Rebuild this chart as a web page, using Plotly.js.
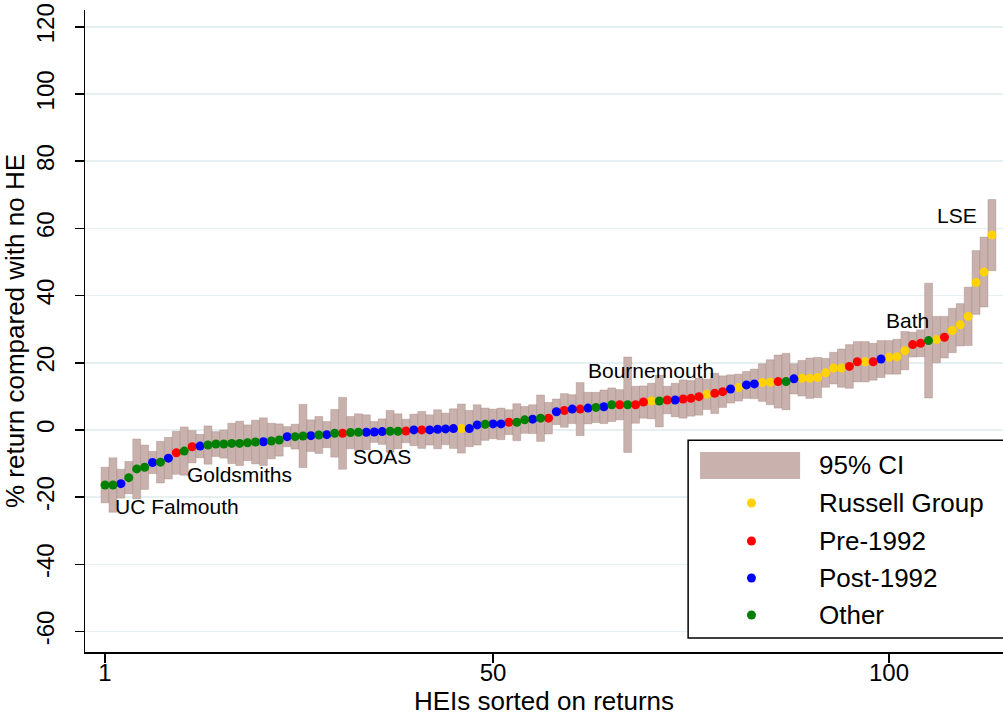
<!DOCTYPE html>
<html>
<head>
<meta charset="utf-8">
<script src="https://cdn.plot.ly/plotly-3.0.1.min.js"></script>
<style>
  html, body { margin: 0; padding: 0; background: #fff; overflow: hidden; }
  #chart { width: 1003px; height: 719px; }
</style>
</head>
<body>
<div id="chart"></div>
<script>
// Estimated % return compared with no HE, HEIs sorted on returns
const returns = [
  -16.4,-16.4,-16.0,-14.2,-11.6,-11.1,-9.7,-9.6,-8.4,-6.8,
  -6.3,-5.0,-4.8,-4.5,-4.2,-4.2,-4.0,-4.0,-3.8,-3.6,
  -3.5,-3.3,-3.0,-2.0,-2.0,-1.8,-1.7,-1.5,-1.4,-1.0,
  -1.0,-0.8,-0.7,-0.7,-0.6,-0.5,-0.4,-0.4,-0.3,0.0,
  0.0,0.0,0.2,0.3,0.4,0.4,0.4,1.5,1.7,1.8,
  1.8,2.3,2.3,3.0,3.2,3.5,3.5,5.4,5.8,6.2,
  6.2,6.5,6.7,6.9,7.5,7.5,7.5,7.5,8.3,8.6,
  8.6,8.9,8.9,9.2,9.4,9.9,10.6,10.9,11.4,12.2,
  12.6,13.4,13.7,14.1,14.2,14.4,14.4,15.2,15.4,15.4,
  15.6,17.0,18.4,18.4,18.9,20.3,20.3,20.3,21.1,21.6,
  21.8,23.6,25.4,25.8,26.6,26.9,27.6,29.6,31.3,33.8,
  43.9,47.0,58.0
];
// 95% confidence interval bounds
const ciLow = [
  -21.7,-24.5,-20.3,-19.0,-20.5,-17.7,-13.0,-15.8,-14.6,-13.2,
  -13.5,-9.8,-8.3,-10.2,-7.9,-8.4,-10.0,-10.6,-9.1,-10.1,
  -10.6,-8.6,-7.8,-5.0,-5.7,-11.2,-6.4,-7.0,-5.3,-8.1,
  -11.7,-5.6,-6.2,-5.9,-3.7,-4.3,-6.6,-5.6,-3.8,-4.7,
  -5.5,-4.5,-5.6,-4.4,-5.5,-6.9,-5.0,-4.5,-3.1,-2.6,
  -2.9,-1.4,-3.2,-1.0,-1.1,-3.4,-1.2,1.6,0.8,1.9,
  -1.7,1.8,2.2,1.9,2.5,3.0,-6.7,2.0,3.5,3.3,
  0.9,4.8,3.9,3.5,4.1,4.4,6.1,4.9,6.7,8.0,
  8.6,9.4,9.3,8.5,7.5,6.5,6.0,10.7,10.1,9.4,
  9.6,12.7,13.7,12.7,12.4,14.3,14.3,14.8,15.6,16.6,
  16.6,17.9,21.7,21.8,9.5,20.0,21.4,23.0,25.0,25.1,
  34.4,36.6,47.4
];
const ciHigh = [
  -11.1,-8.3,-11.7,-9.4,-2.7,-4.5,-6.4,-3.4,-2.2,-0.4,
  0.9,-0.2,-1.3,1.2,-0.5,0.0,2.0,2.6,1.5,2.9,
  3.6,2.0,1.8,1.0,1.7,7.6,3.0,4.0,2.5,6.1,
  9.7,4.0,4.8,4.5,2.5,3.3,5.8,4.8,3.2,4.7,
  5.5,4.5,6.0,5.0,6.3,7.7,5.8,7.5,6.5,6.2,
  6.5,6.0,7.8,7.0,7.5,10.4,8.2,9.2,10.8,10.5,
  14.1,11.2,11.2,11.9,12.5,12.0,21.7,13.0,13.1,13.9,
  16.3,13.0,13.9,14.9,14.7,15.4,15.1,16.9,16.1,16.4,
  16.6,17.4,18.1,19.7,20.9,22.3,22.8,19.7,20.7,21.4,
  21.6,21.3,23.1,24.1,25.4,26.3,26.3,25.8,26.6,26.6,
  27.0,29.3,29.1,29.8,43.7,33.8,33.8,36.2,37.6,42.5,
  53.4,57.4,68.6
];
// Group of each HEI: R = Russell Group, P = Pre-1992, Q = Post-1992, O = Other
const groupCodes = [
  "O","O","Q","O","O","O","Q","O","Q","P",
  "O","P","Q","O","O","O","O","O","O","O",
  "Q","O","O","Q","O","O","Q","O","Q","O",
  "P","O","O","Q","Q","Q","O","O","P","Q",
  "P","Q","Q","Q","Q","R","Q","Q","O","Q",
  "Q","P","O","O","Q","O","P","Q","P","Q",
  "P","Q","O","Q","O","P","O","P","P","R",
  "O","P","Q","P","P","P","R","P","P","Q",
  "R","Q","Q","R","R","P","O","Q","R","R",
  "R","R","R","R","P","P","R","P","Q","R",
  "R","R","P","P","O","R","P","R","R","R",
  "R","R","R"
];
const groupKeys   = ["R", "P", "Q", "O"];
const groupNames  = ["Russell Group", "Pre-1992", "Post-1992", "Other"];
const groupColors = ["#FFD200", "#FF0000", "#0000FF", "#008000"];
const ciName = "95% CI";
const ciColor = "#C9B2AE";
const xTicks = [1, 50, 100];
const yTicks = [-60, -40, -20, 0, 20, 40, 60, 80, 100, 120];
// Labelled institutions: rank and label
const labelRanks = [1, 12, 31, 67, 105, 113];
const labelTexts = ["UC Falmouth", "Goldsmiths", "SOAS", "Bournemouth", "Bath", "LSE"];

const ranks = returns.map((_, i) => i + 1);
const FONT = "Liberation Sans, Arial, Helvetica, sans-serif";

const traces = [];
traces.push({
  type: "bar",
  name: ciName,
  x: ranks,
  base: ciLow,
  y: ciHigh.map((h, i) => h - ciLow[i]),
  width: 1,
  marker: { color: ciColor, line: { color: "rgba(150,118,112,0.55)", width: 0.6 } },
  showlegend: false,
  hoverinfo: "skip"
});
groupKeys.forEach((k, gi) => {
  const xs = [], ys = [];
  ranks.forEach((r, i) => { if (groupCodes[i] === k) { xs.push(r); ys.push(returns[i]); } });
  traces.push({
    type: "scatter", mode: "markers", name: groupNames[gi],
    x: xs, y: ys,
    marker: { color: groupColors[gi], size: 9, line: { width: 0 } },
    showlegend: false
  });
});

// Label annotations placed beside their institutions
const labelOffsets = [
  { dx: 1.0, dy: -6.5 }, { dx: -0.9, dy: -8.4 }, { dx: 1.1, dy: -7.0 },
  { dx: -5.3, dy: 10.1 }, { dx: -5.6, dy: 6.1 }, { dx: -7.2, dy: 5.7 }
];
const annotations = labelRanks.map((r, i) => ({
  x: r + labelOffsets[i].dx, y: returns[r - 1] + labelOffsets[i].dy,
  xref: "x", yref: "y", xanchor: "left", yanchor: "middle",
  text: labelTexts[i], showarrow: false,
  font: { family: FONT, size: 21, color: "#000" }
}));

// Custom legend (Stata style)
const shapes = [];
shapes.push({
  type: "line", xref: "paper", x0: 0, x1: 1, yref: "y", y0: 0, y1: 0,
  line: { color: "#0000FF", width: 2, dash: "13px,7px" }, layer: "between"
});
const L = { x0: 0.657, x1: 1.02, y0: 0.0218, y1: 0.330 };
shapes.push({
  type: "rect", xref: "paper", yref: "paper", x0: L.x0, x1: L.x1, y0: L.y0, y1: L.y1,
  fillcolor: "#fff", line: { color: "#000", width: 1.5 }, layer: "above"
});
shapes.push({
  type: "rect", xref: "paper", yref: "paper", x0: 0.670, x1: 0.779, y0: 0.2695, y1: 0.3115,
  fillcolor: ciColor, line: { width: 0 }, layer: "above"
});
const rowY = [0.2913, 0.2321, 0.1729, 0.1153, 0.0576];
groupKeys.forEach((k, gi) => {
  shapes.push({
    type: "circle", xref: "paper", yref: "paper", layer: "above",
    xsizemode: "pixel", ysizemode: "pixel",
    xanchor: 0.726, yanchor: rowY[gi + 1], x0: -4.5, x1: 4.5, y0: -4.5, y1: 4.5,
    fillcolor: groupColors[gi], line: { width: 0 }
  });
});
[ciName].concat(groupNames).forEach((t, i) => {
  annotations.push({
    xref: "paper", yref: "paper", x: 0.797, y: rowY[i], xanchor: "left", yanchor: "middle",
    text: t, showarrow: false, font: { family: FONT, size: 26, color: "#000" }
  });
});

const layout = {
  width: 1003, height: 719,
  margin: { l: 85, r: 0, t: 10, b: 67 },
  paper_bgcolor: "#fff", plot_bgcolor: "#fff",
  font: { family: FONT, color: "#000" },
  showlegend: false,
  barmode: "overlay",
  xaxis: {
    range: [-1.53, 114.4], tickvals: xTicks, ticktext: xTicks.map(String),
    ticks: "outside", ticklen: 9, tickwidth: 1.5, tickcolor: "#000",
    ticklabelstandoff: -10,
    showline: true, linecolor: "#000", linewidth: 1.5,
    showgrid: false, zeroline: false,
    tickfont: { family: FONT, size: 24 },
    title: { text: "HEIs sorted on returns", font: { family: FONT, size: 26 }, standoff: 6 }
  },
  yaxis: {
    range: [-66.1, 125], tickvals: yTicks, ticktext: yTicks.map(String),
    ticks: "outside", ticklen: 9, tickwidth: 1.5, tickcolor: "#000",
    tickangle: -90, ticklabelstandoff: 11,
    showline: true, linecolor: "#000", linewidth: 1.5,
    showgrid: true, gridcolor: "#E6EFF1", gridwidth: 1.5, zeroline: false,
    tickfont: { family: FONT, size: 24 },
    title: { text: "% return compared with no HE", font: { family: FONT, size: 26 }, standoff: 0 }
  },
  shapes: shapes,
  annotations: annotations
};

Plotly.newPlot("chart", traces, layout, { displayModeBar: false, staticPlot: true });
</script>
</body>
</html>
